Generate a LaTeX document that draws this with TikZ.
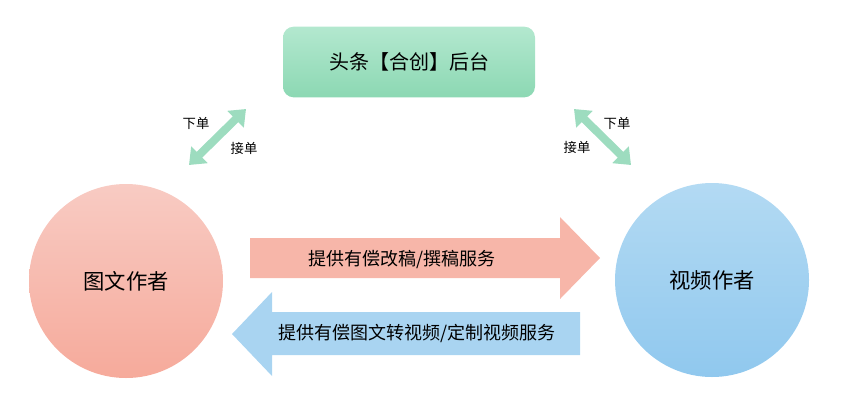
\documentclass[tikz,border=0pt]{standalone}
\usepackage{fontspec}
\setmainfont{Noto Sans CJK SC}
\usetikzlibrary{arrows.meta}
\definecolor{gA}{HTML}{B3E8CF}\definecolor{gB}{HTML}{8CD8B3}
\definecolor{pA}{HTML}{F8CBC3}\definecolor{pB}{HTML}{F6AA9B}
\definecolor{bA}{HTML}{B3DAF3}\definecolor{bB}{HTML}{90C8EE}
\definecolor{dg}{HTML}{9DDCBF}\definecolor{ra}{HTML}{F7B6A9}\definecolor{la}{HTML}{A9D4F1}
\tikzset{dbl/.style={dg,line width=6pt,{Triangle[width=17pt,length=11pt]}-{Triangle[width=17pt,length=11pt]}},
lbl/.style={font=\fontsize{10pt}{12pt}\selectfont},
circ/.style={circle,minimum size=145.5pt,inner sep=0pt,font=\fontsize{16pt}{19pt}\selectfont}}
\begin{document}
\begin{tikzpicture}[x=0.75pt,y=-0.75pt]
\useasboundingbox (0,0) rectangle (848,408);
\node[rounded corners=8pt,top color=gA,bottom color=gB,minimum width=189pt,minimum height=53pt,font=\fontsize{15pt}{18pt}\selectfont] (top) at (409,62) {头条【合创】后台};
\node[circ,top color=pA,bottom color=pB] (l) at (126,281) {图文作者};
\node[circ,top color=bA,bottom color=bB] (r) at (712,280) {视频作者};
\fill[ra] (250,238) -- (560,238) -- (560,217) -- (600,258) -- (560,299) -- (560,278) -- (250,278) -- cycle;
\node[font=\fontsize{13.5pt}{16pt}\selectfont] (t1) at (402,259) {提供有偿改稿/撰稿服务};
\fill[la] (580,312) -- (272,312) -- (272,292) -- (232,334) -- (272,376) -- (272,355) -- (580,355) -- cycle;
\node[font=\fontsize{13.5pt}{16pt}\selectfont] (t2) at (417,333) {提供有偿图文转视频/定制视频服务};
\coordinate (a1) at (189,165); \coordinate (a2) at (246,109);
\coordinate (b1) at (574,109); \coordinate (b2) at (631,165);
\draw[dbl] (a1) -- (a2);
\draw[dbl] (b1) -- (b2);
\node[lbl] (x1) at (196,123) {下单};
\node[lbl] (x2) at (244,148) {接单};
\node[lbl] (x3) at (617,123) {下单};
\node[lbl] (x4) at (577,147) {接单};
\end{tikzpicture}
\end{document}
